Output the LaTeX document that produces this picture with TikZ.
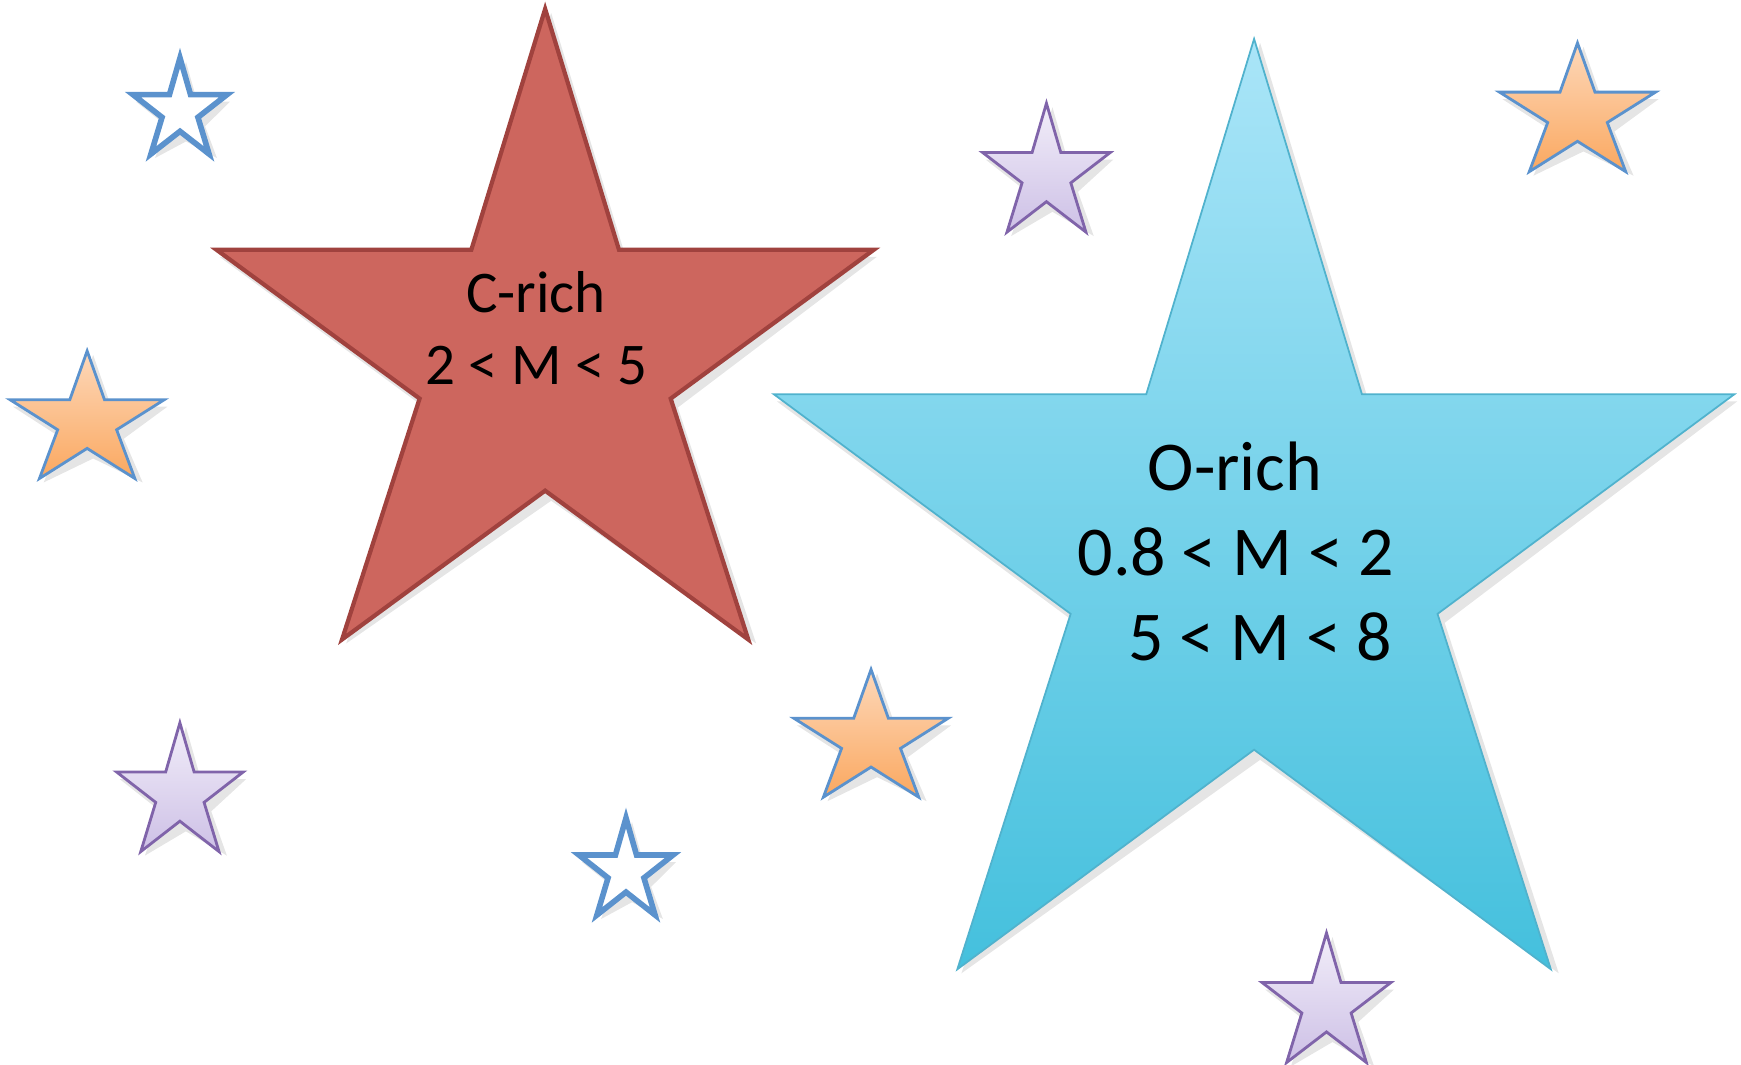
\documentclass[tikz,border=0pt]{standalone}
\usepackage{fontspec}
\setmainfont{Carlito}
\definecolor{redfill}{RGB}{205,102,94}
\definecolor{redline}{RGB}{160,66,62}
\definecolor{cyantop}{RGB}{170,229,248}
\definecolor{cyanbot}{RGB}{68,192,221}
\definecolor{cyanline}{RGB}{80,178,205}
\definecolor{orgtop}{RGB}{253,216,186}
\definecolor{orgbot}{RGB}{250,168,96}
\definecolor{purtop}{RGB}{242,238,249}
\definecolor{purbot}{RGB}{205,192,230}
\definecolor{purline}{RGB}{128,100,170}
\definecolor{bluline}{RGB}{91,146,205}
\newcommand\pstar[5]{%
  \path[#1] ({#2+0.5*(#4-#2)},{#3})
    -- ({#2+0.6123*(#4-#2)},{#3+0.382*(#5-#3)})
    -- ({#4},{#3+0.382*(#5-#3)})
    -- ({#2+0.691*(#4-#2)},{#3+0.618*(#5-#3)})
    -- ({#2+0.809*(#4-#2)},{#5})
    -- ({#2+0.5*(#4-#2)},{#3+0.764*(#5-#3)})
    -- ({#2+0.191*(#4-#2)},{#5})
    -- ({#2+0.309*(#4-#2)},{#3+0.618*(#5-#3)})
    -- ({#2},{#3+0.382*(#5-#3)})
    -- ({#2+0.3877*(#4-#2)},{#3+0.382*(#5-#3)})
    -- cycle;}
\newcommand\shstar[4]{\pstar{fill=black,opacity=0.10}{#1+3}{#2+4}{#3+3}{#4+4}}
\tikzset{
  redstar/.style={fill=redfill,draw=redline,line width=1.2pt,line join=miter},
  cyanstar/.style={top color=cyantop,bottom color=cyanbot,draw=cyanline,line width=0.5pt},
  orgstar/.style={top color=orgtop,bottom color=orgbot,draw=bluline,line width=0.8pt},
  purstar/.style={top color=purtop,bottom color=purbot,draw=purline,line width=0.8pt},
  bluestar/.style={fill=white,draw=bluline,line width=1.6pt},
  lbl/.style={anchor=base,inner sep=0pt,text=black},
}
\begin{document}
\begin{tikzpicture}[x=0.01cm,y=-0.01cm]
\useasboundingbox (0,0) rectangle (1741,1065);
% big red star
\shstar{216.5}{8.9}{873.8}{639.5}
\pstar{redstar}{216.5}{8.9}{873.8}{639.5}
% big cyan star
\shstar{773.9}{38.9}{1734.3}{969.3}
\pstar{cyanstar}{773.9}{38.9}{1734.3}{969.3}
% small stars
\shstar{133}{58}{227}{154}
\pstar{bluestar}{133}{58}{227}{154}
\shstar{10}{351}{164.3}{478.5}
\pstar{orgstar}{10}{351}{164.3}{478.5}
\shstar{116.6}{722.8}{243.2}{851.6}
\pstar{purstar}{116.6}{722.8}{243.2}{851.6}
\shstar{579}{818}{673}{915}
\pstar{bluestar}{579}{818}{673}{915}
\shstar{793.9}{669.5}{948.2}{797.2}
\pstar{orgstar}{793.9}{669.5}{948.2}{797.2}
\shstar{982.6}{103.3}{1110.3}{232.1}
\pstar{purstar}{982.6}{103.3}{1110.3}{232.1}
\shstar{1499.5}{43}{1655.5}{171.7}
\pstar{orgstar}{1499.5}{43}{1655.5}{171.7}
\shstar{1262}{933}{1391}{1062.5}
\pstar{purstar}{1262}{933}{1391}{1062.5}
% texts
\node[lbl,font=\fontsize{16.8}{20}\selectfont] (c1) at (536,313) {C-rich};
\node[lbl,font=\fontsize{16.8}{20}\selectfont] (c2) at (536.5,385) {2 < M < 5};
\node[lbl,font=\fontsize{19.9}{24}\selectfont] (o1) at (1235,491) {O-rich};
\node[lbl,font=\fontsize{19.9}{24}\selectfont] (o2) at (1236,576) {0.8 < M < 2};
\node[lbl,font=\fontsize{19.9}{24}\selectfont] (o3) at (1260.5,661) {5 < M < 8};
\end{tikzpicture}
\end{document}
